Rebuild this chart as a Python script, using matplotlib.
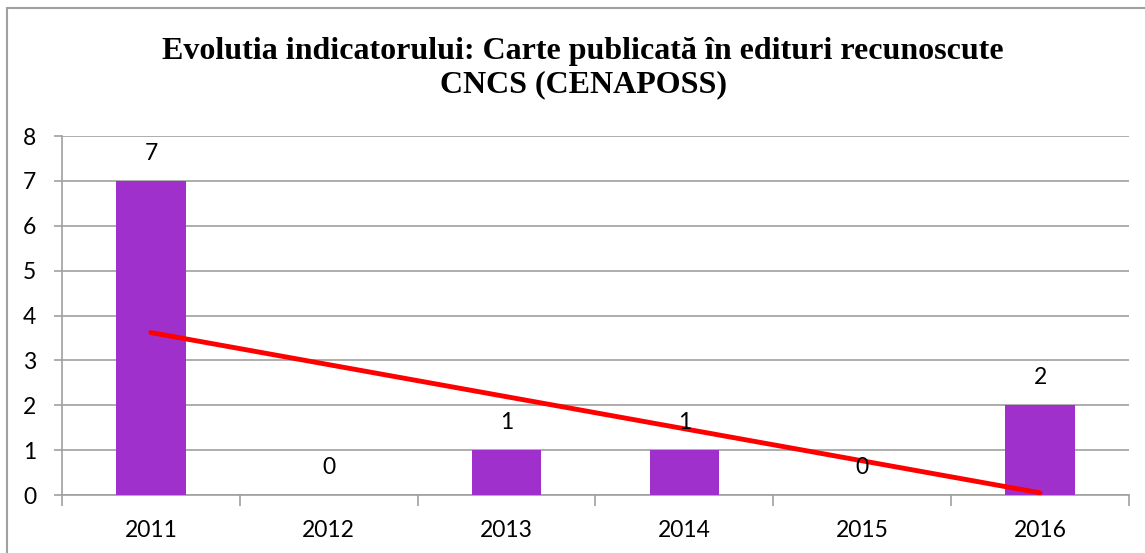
import matplotlib.pyplot as plt
import numpy as np
from matplotlib.patches import Rectangle

# ----------------------------
# data
# ----------------------------
years = ["2011", "2012", "2013", "2014", "2015", "2016"]
values = [7, 0, 1, 1, 0, 2]

title = "Evolutia indicatorului: Carte publicată în edituri recunoscute\nCNCS (CENAPOSS)"

plt.rcParams.update({
    "font.family": ["Lato", "DejaVu Sans"],
    "font.size": 16.5
})

fig = plt.figure(figsize=(11.45, 5.53), dpi=100)
ax = fig.add_axes([62 / 1145, 1 - 495 / 553, 1067 / 1145, 359 / 553])

x = np.arange(len(years))
ax.bar(x, values, width=0.39, color="#A030CC", zorder=3)

# linear trend line (Excel style)
slope, icpt = np.polyfit(x, values, 1)
ax.plot(x, slope * x + icpt, color="#FF0000", lw=3.5, solid_capstyle="round", zorder=4)

for xi, v in zip(x, values):
    ax.annotate(str(v), (xi, v), xytext=(0, 20), textcoords="offset points",
                ha="center", va="center", fontsize=16.5, zorder=5)

ax.set_xlim(-0.5, len(years) - 0.5)
ax.set_ylim(0, 8)
ax.set_yticks(range(0, 9))
ax.set_xticks(x)
ax.set_xticklabels(years)
ax.set_xticks(np.arange(-0.5, len(years), 1), minor=True)
ax.tick_params(axis="x", which="major", length=0, pad=18)
ax.tick_params(axis="x", which="minor", length=8, color="#A0A0A0", width=1.2)
ax.tick_params(axis="y", length=6, color="#A0A0A0", width=1.2, pad=12.5)

ax.yaxis.grid(True, color="#A0A0A0", lw=1.2, zorder=0)
for s in ["top", "right"]:
    ax.spines[s].set_visible(False)
for s in ["left", "bottom"]:
    ax.spines[s].set_color("#A0A0A0")
    ax.spines[s].set_linewidth(1.2)

fig.text(583 / 1145, 1 - 68 / 553, title, ha="center", va="center",
         family="Liberation Serif", fontweight="bold", fontsize=23, linespacing=1.17)

# chart area border
fig.patches.append(Rectangle((7 / 1145, -0.05), 1.1, 1 - 8 / 553 + 0.05,
                             transform=fig.transFigure, fill=False,
                             edgecolor="#A0A0A0", lw=1.5))

plt.savefig("out.png", dpi=100)
